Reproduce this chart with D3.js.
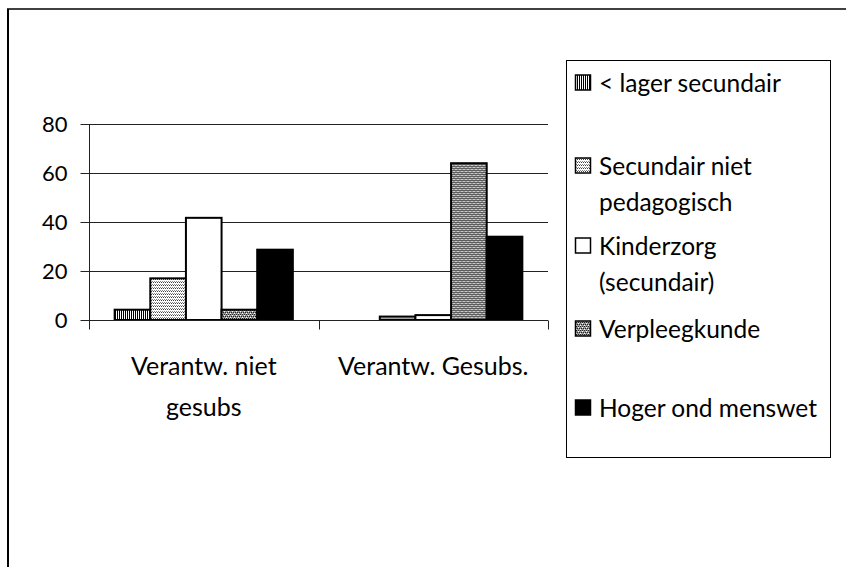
<!DOCTYPE html>
<html>
<head>
<meta charset="utf-8">
<script src="https://cdn.jsdelivr.net/npm/d3@7"></script>
<style>
  body { margin: 0; background: #fff; }
  text { font-family: "Lato", "Open Sans", sans-serif; fill: #000; }
</style>
</head>
<body>
<div id="chart"></div>
<script>
// Data
let categories = ["Verantw. niet gesubs", "Verantw. Gesubs."];
let categoryLines = [["Verantw. niet", "gesubs"], ["Verantw. Gesubs."]];
let seriesNames = ["< lager secundair", "Secundair niet pedagogisch", "Kinderzorg (secundair)", "Verpleegkunde", "Hoger ond menswet"];
let legendLines = [["< lager secundair"], ["Secundair niet", "pedagogisch"], ["Kinderzorg", "(secundair)"], ["Verpleegkunde"], ["Hoger ond menswet"]];
let lagerSecundair = [4.2, 0];
let secundairNietPed = [17, 1.4];
let kinderzorg = [41.7, 2];
let verpleegkunde = [4.2, 64];
let hogerMenswet = [28.7, 34];
let yTicks = [0, 20, 40, 60, 80];

let seriesValues = [lagerSecundair, secundairNietPed, kinderzorg, verpleegkunde, hogerMenswet];
let fills = ["url(#pVert)", "url(#pDots)", "#fff", "url(#pCheck)", "#000"];

let svgWidth = 846, svgHeight = 567;
let margin = { top: 124, left: 89, right: 298, bottom: 248 };

let svg = d3.select("#chart")
  .append("svg")
  .attr("width", svgWidth)
  .attr("height", svgHeight);

// fill patterns
let defs = svg.append("defs");
let p1 = defs.append("pattern").attr("id", "pVert").attr("patternUnits", "userSpaceOnUse")
  .attr("width", 2).attr("height", 2);
p1.append("rect").attr("width", 2).attr("height", 2).attr("fill", "#fff");
p1.append("rect").attr("width", 1).attr("height", 2).attr("fill", "#000");

let p2 = defs.append("pattern").attr("id", "pDots").attr("patternUnits", "userSpaceOnUse")
  .attr("width", 2).attr("height", 3);
p2.append("rect").attr("width", 2).attr("height", 3).attr("fill", "#fff");
p2.append("rect").attr("width", 1).attr("height", 1).attr("fill", "#444");
p2.append("rect").attr("x", 1).attr("y", 2).attr("width", 1).attr("height", 1).attr("fill", "#888");

let p3 = defs.append("pattern").attr("id", "pCheck").attr("patternUnits", "userSpaceOnUse")
  .attr("width", 4).attr("height", 4);
p3.append("rect").attr("width", 4).attr("height", 4).attr("fill", "#999");
p3.append("rect").attr("width", 1).attr("height", 1).attr("x", 0).attr("y", 0).attr("fill", "#222");
p3.append("rect").attr("width", 1).attr("height", 1).attr("x", 2).attr("y", 0).attr("fill", "#222");
p3.append("rect").attr("width", 1).attr("height", 1).attr("x", 1).attr("y", 2).attr("fill", "#222");
p3.append("rect").attr("width", 1).attr("height", 1).attr("x", 3).attr("y", 2).attr("fill", "#222");
p3.append("rect").attr("width", 1).attr("height", 1).attr("x", 1).attr("y", 1).attr("fill", "#fff");
p3.append("rect").attr("width", 1).attr("height", 1).attr("x", 3).attr("y", 3).attr("fill", "#fff");

// outer frame (top and left edge only visible)
svg.append("line").attr("x1", 7).attr("x2", svgWidth).attr("y1", 9).attr("y2", 9)
  .attr("stroke", "#000").attr("stroke-width", 1.5);
svg.append("line").attr("x1", 8).attr("x2", 8).attr("y1", 9).attr("y2", svgHeight)
  .attr("stroke", "#000").attr("stroke-width", 2);

let x = d3.scaleBand()
  .domain(categories)
  .range([margin.left, svgWidth - margin.right]);

let xSub = d3.scaleBand()
  .domain(seriesNames)
  .range([0, x.bandwidth()])
  .paddingInner(0)
  .paddingOuter(0.72);

let y = d3.scaleLinear()
  .domain([0, 80])
  .range([svgHeight - margin.bottom + 1, margin.top]);

// gridlines
svg.append("g").selectAll("line")
  .data(yTicks.slice(1))
  .enter().append("line")
  .attr("x1", margin.left).attr("x2", svgWidth - margin.right)
  .attr("y1", d => Math.round(y(d)) + 0.5).attr("y2", d => Math.round(y(d)) + 0.5)
  .attr("stroke", "#222").attr("stroke-width", 1);

// y axis
let leftAxis = d3.axisLeft(y).tickValues(yTicks).tickSize(9).tickPadding(13);
let gy = svg.append("g")
  .attr("transform", "translate(" + (margin.left + 0.5) + ",0)")
  .call(leftAxis);
gy.select(".domain").remove();
gy.append("line").attr("x1", 0).attr("x2", 0).attr("y1", y(80)).attr("y2", y(0) + 9).attr("stroke", "#222");
gy.selectAll(".tick line").attr("stroke", "#222");
gy.selectAll(".tick text").attr("font-size", 22).attr("font-family", "Lato").attr("fill", "#000");

// bars
let groups = svg.append("g").selectAll("g")
  .data(categories)
  .enter().append("g")
  .attr("transform", d => "translate(" + x(d) + ",0)");

groups.selectAll("rect")
  .data((d, i) => seriesNames.map((s, j) => ({ s: s, j: j, v: seriesValues[j][i] })))
  .enter().append("rect")
  .filter(d => d.v > 0)
  .attr("x", d => xSub(d.s))
  .attr("width", xSub.bandwidth())
  .attr("y", d => y(d.v))
  .attr("height", d => y(0) - y(d.v))
  .attr("fill", d => fills[d.j])
  .attr("stroke", "#000")
  .attr("stroke-width", 2);

// x axis
let bottomAxis = d3.axisBottom(x).tickSize(0).tickFormat("");
let gx = svg.append("g")
  .attr("transform", "translate(0," + (y(0) + 0.5) + ")")
  .call(bottomAxis);
gx.select(".domain").attr("stroke", "#222").attr("d", "M" + margin.left + ",0H" + (svgWidth - margin.right));
gx.selectAll(".tick").remove();
let xBounds = [margin.left, x(categories[1]), svgWidth - margin.right];
gx.selectAll(".xb").data(xBounds).enter().append("line")
  .attr("x1", d => Math.round(d) + 0.5).attr("x2", d => Math.round(d) + 0.5)
  .attr("y1", 0).attr("y2", 9).attr("stroke", "#222");

// category labels
categories.forEach(function(c, i) {
  categoryLines[i].forEach(function(line, k) {
    svg.append("text")
      .attr("x", x(c) + x.bandwidth() / 2)
      .attr("y", 375 + k * 41)
      .attr("text-anchor", "middle")
      .attr("font-size", 25)
      .text(line);
  });
});

// legend
svg.append("rect")
  .attr("x", 566.5).attr("y", 60.5)
  .attr("width", 264).attr("height", 397)
  .attr("fill", "#fff").attr("stroke", "#000").attr("stroke-width", 1);

let legendY = [82, 165, 245, 328, 407];
let legend = svg.append("g").selectAll("g")
  .data(seriesNames)
  .enter().append("g")
  .attr("transform", (d, i) => "translate(575," + legendY[i] + ")");

legend.append("rect")
  .attr("x", 0.5).attr("y", -7)
  .attr("width", 15).attr("height", 15)
  .attr("fill", (d, i) => fills[i])
  .attr("stroke", "#000").attr("stroke-width", 1.5);

legend.each(function(d, i) {
  let g = d3.select(this);
  legendLines[i].forEach(function(line, k) {
    g.append("text")
      .attr("x", 24)
      .attr("y", 9.5 + k * 36)
      .attr("font-size", 24.5)
      .text(line);
  });
});
</script>
</body>
</html>
